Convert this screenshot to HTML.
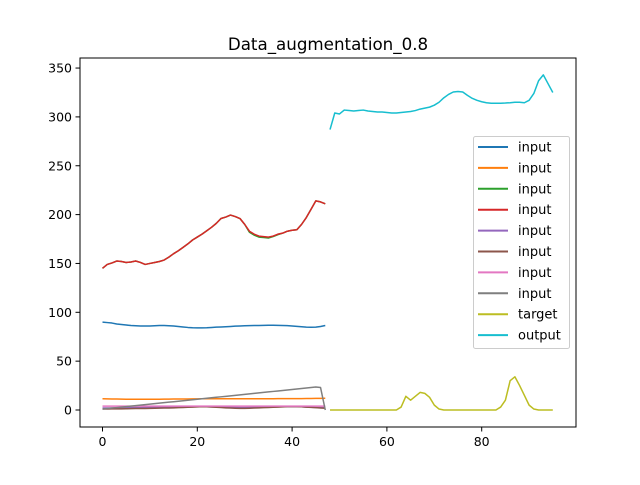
<!DOCTYPE html>
<html><head><meta charset="utf-8"><style>
body{margin:0;background:#fff}
svg{font-family:"DejaVu Sans","Liberation Sans",sans-serif}
</style></head><body>
<svg id="c" width="640" height="480">
<rect width="640" height="480" fill="#fff"/>
<text x="328" y="50" text-anchor="middle" font-size="16.7">Data_augmentation_0.8</text>
<g id="plot"></g>
<rect x="80" y="58" width="496" height="369" fill="none" stroke="#000" stroke-width="1"/>
<g id="ticks"></g>
<g id="legend"></g>
</svg>
<script>
const blueIn=[90,89.5,89,88,87.5,87,86.5,86.2,86,86,86,86.2,86.5,86.5,86.2,86,85.5,85,84.5,84.2,84,84,84.2,84.5,84.8,85,85.2,85.5,85.8,86,86.2,86.3,86.5,86.5,86.6,86.7,86.7,86.6,86.5,86.3,86,85.6,85.2,84.8,84.7,84.8,85.5,86.5];
const orangeIn=[11.5,11.4,11.3,11.2,11.1,11,11,11,11,11,11,11,11,11.1,11.1,11.2,11.2,11.3,11.3,11.4,11.4,11.5,11.5,11.5,11.5,11.5,11.5,11.5,11.5,11.5,11.5,11.5,11.5,11.5,11.5,11.5,11.5,11.6,11.6,11.6,11.7,11.7,11.7,11.8,11.8,11.9,11.9,12];
const redIn=[145,149,150.5,152.5,152,151,151.5,152.5,151,149,150,151,152,153.5,156.5,160,163,166.5,170,174,177,180,183.5,187,191,196,197.5,199.5,198,196,190,183,180,178,177.5,177,178,180,181,183,184,184.5,190,197,205.5,214,213,211];
const greenIn=[145,149,150.5,152.5,152,151,151.5,152.5,151,149,150,151,152,153.5,156.5,160,163,166.5,170,174,177,180,183.5,187,191,196,197.5,199.5,198,196,190,182,179,177,176.5,176,177.5,179.5,181,183,184,184.5,190,197,205.5,214,213,211];
const purpleIn=[2,2,2,2.1,2.2,2.3,2.4,2.5,2.6,2.7,2.8,2.9,3,3,3.1,3.1,3.2,3.2,3.3,3.3,3.4,3.4,3.3,3.2,3.1,3,2.9,2.8,2.7,2.6,2.6,2.7,2.8,2.9,3,3.1,3.2,3.3,3.4,3.5,3.6,3.5,3.3,3,2.8,2.6,2.5,2.4];
const brownIn=[1,1,1.1,1.2,1.2,1.3,1.4,1.5,1.5,1.6,1.7,1.8,1.9,2,2.1,2.2,2.4,2.6,2.8,3,3.2,3.4,3.3,3.1,2.8,2.5,2.2,2,1.8,1.7,1.7,1.8,2,2.2,2.4,2.6,2.8,3,3.2,3.4,3.5,3.5,3.3,3,2.7,2.4,2.1,1.8];
const pinkIn=[4,4,4,4,4,4,4,4,4,4,4,4,4,4,4,4,4,4,4,4,4,4,4,4,4,4,4,4,4,4,4,4,4,4,4,4,4,4,4,4,4,4,4,4,4,4,4,4];
const grayIn=[1,1.5,2,2.5,3,3.5,4,4.5,5,5.5,6,6.5,7,7.5,8,8.5,9,9.5,10,10.5,11,11.5,12,12.5,13,13.5,14,14.5,15,15.5,16,16.5,17,17.5,18,18.5,19,19.5,20,20.5,21,21.5,22,22.5,23,23.5,23,0];
const targetVals=[0,0,0,0,0,0,0,0,0,0,0,0,0,0,0,3,14,10,14,18,17,13,5,1,0,0,0,0,0,0,0,0,0,0,0,0,3,10,30,34,25,15,5,1,0,0,0,0];
const outputVals=[287,304,303,307,306.5,306,306.5,307,306,305.5,305,305,304.5,304,304,304.5,305,305.5,306.5,308,309,310,312,315,319.5,323,325.5,326,325.5,322,319,317,315.5,314.5,314,314,314,314.2,314.5,315,315,314.5,317,324,337,343,334,325];
const yTicks=[0,50,100,150,200,250,300,350];
const xTicks=[0,20,40,60,80];
const seriesNames=["input","input","input","input","input","input","input","input","target","output"];
const colors=["#1f77b4","#ff7f0e","#2ca02c","#d62728","#9467bd","#8c564b","#e377c2","#7f7f7f","#bcbd22","#17becf"];

const NS="http://www.w3.org/2000/svg";
const xs=v=>102.5+v*4.74;
const ys=v=>410-v*0.977;
const plot=document.getElementById('plot');
function line(vals,start,color,name){
  const p=document.createElementNS(NS,'polyline');
  p.setAttribute('points',vals.map((v,i)=>xs(start+i).toFixed(2)+','+ys(v).toFixed(2)).join(' '));
  p.setAttribute('fill','none');p.setAttribute('stroke',color);p.setAttribute('stroke-width','1.5');
  p.setAttribute('stroke-linejoin','round');
  
  
  plot.appendChild(p);
}
const inputs=[blueIn,orangeIn,greenIn,redIn,purpleIn,brownIn,pinkIn,grayIn];
inputs.forEach((a,k)=>line(a,0,colors[k],'input-line-'+(k+1)));
line(targetVals,48,colors[8],'target-line');
line(outputVals,48,colors[9],'output-line');

const tg=document.getElementById('ticks');
yTicks.forEach(t=>{
  const y=ys(t);
  const l=document.createElementNS(NS,'line');
  l.setAttribute('x1',75.5);l.setAttribute('x2',80);l.setAttribute('y1',y);l.setAttribute('y2',y);l.setAttribute('stroke','#000');
  
  
  tg.appendChild(l);
  const tx=document.createElementNS(NS,'text');
  tx.setAttribute('x',72);tx.setAttribute('y',y+4.5);tx.setAttribute('text-anchor','end');tx.setAttribute('font-size','12.5');
  tx.textContent=t;
  
  
  tg.appendChild(tx);
});
xTicks.forEach(t=>{
  const x=xs(t);
  const l=document.createElementNS(NS,'line');
  l.setAttribute('x1',x);l.setAttribute('x2',x);l.setAttribute('y1',427);l.setAttribute('y2',431.5);l.setAttribute('stroke','#000');
  
  
  tg.appendChild(l);
  const tx=document.createElementNS(NS,'text');
  tx.setAttribute('x',x);tx.setAttribute('y',446);tx.setAttribute('text-anchor','middle');tx.setAttribute('font-size','12.5');
  tx.textContent=t;
  
  
  tg.appendChild(tx);
});

const lg=document.getElementById('legend');
const box=document.createElementNS(NS,'rect');
box.setAttribute('x',473.5);box.setAttribute('y',136.5);box.setAttribute('width',96);box.setAttribute('height',212);
box.setAttribute('rx',2);box.setAttribute('fill','#fff');box.setAttribute('fill-opacity','0.8');box.setAttribute('stroke','#ccc');


lg.appendChild(box);
seriesNames.forEach((n,i)=>{
  const y=147+i*20.9;
  const l=document.createElementNS(NS,'line');
  l.setAttribute('x1',478);l.setAttribute('x2',508);l.setAttribute('y1',y);l.setAttribute('y2',y);
  l.setAttribute('stroke',colors[i]);l.setAttribute('stroke-width','2');
  
  
  lg.appendChild(l);
  const tx=document.createElementNS(NS,'text');
  tx.setAttribute('x',518);tx.setAttribute('y',y+4.5);tx.setAttribute('font-size','13');
  tx.textContent=n;
  
  
  lg.appendChild(tx);
});
</script>
</body></html>
